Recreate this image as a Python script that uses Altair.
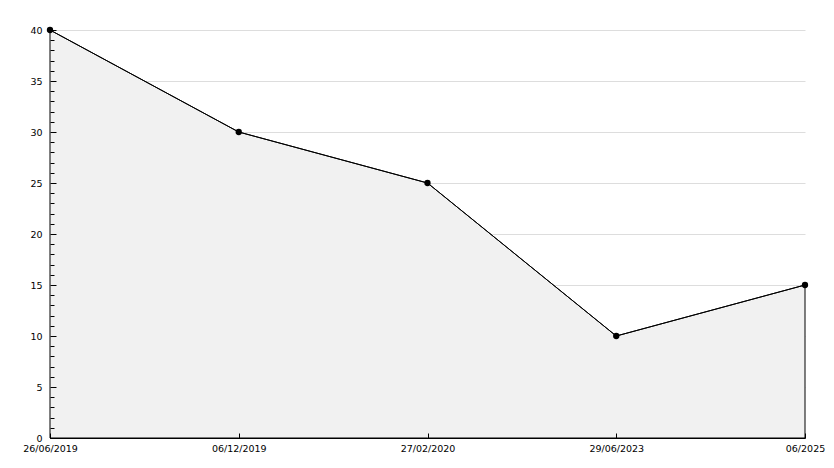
import altair as alt
import pandas as pd

dates = ["26/06/2019", "06/12/2019", "27/02/2020", "29/06/2023", "06/2025"]
values = [40, 30, 25, 10, 15]
y_major = list(range(0, 41, 5))
y_minor = list(range(0, 41))

df = pd.DataFrame({"date": dates, "value": values})

FONT = "DejaVu Sans"
W, H = 755, 408

xscale = alt.Scale(type="point", padding=0)
yscale = alt.Scale(domain=[0, 40], nice=False, zero=True)

x_main = alt.X(
    "date:N", sort=dates, scale=xscale, title=None,
    axis=alt.Axis(orient="bottom", labelAngle=0, ticks=False, domainColor="black",
                  domainWidth=1, labelFont=FONT, labelFontSize=9.5, labelColor="black",
                  labelPadding=5, grid=False, labelOverlap=False),
)
y_main = alt.Y(
    "value:Q", scale=yscale, title=None,
    axis=alt.Axis(orient="left", values=y_major, ticks=False, domainColor="black",
                  domainWidth=1, grid=True, gridColor="#dddddd", labelFont=FONT,
                  labelFontSize=9.5, labelColor="black", labelPadding=8),
)

base = alt.Chart(df)

area = base.mark_area(color="#f1f1f1", stroke="black", strokeWidth=1, opacity=1).encode(
    x=x_main, y=y_main
)
line = base.mark_line(color="black", strokeWidth=1).encode(
    x=alt.X("date:N", sort=dates, scale=xscale, axis=None),
    y=alt.Y("value:Q", scale=yscale, axis=None),
)
pts = base.mark_point(filled=True, color="black", size=40, opacity=1).encode(
    x=alt.X("date:N", sort=dates, scale=xscale, axis=None),
    y=alt.Y("value:Q", scale=yscale, axis=None),
)

ticks = base.mark_point(opacity=0).encode(
    x=alt.X("date:N", sort=dates, scale=xscale, title=None,
            axis=alt.Axis(orient="top", offset=-H, labels=False, domain=False, grid=False,
                          tickSize=5, tickColor="black", zindex=1)),
    y=alt.Y("value:Q", scale=yscale, title=None,
            axis=alt.Axis(orient="right", offset=-W, values=y_minor, labels=False,
                          domain=False, grid=False, tickColor="black",
                          tickSize={"condition": {"test": "datum.value % 5 === 0", "value": 6}, "value": 4},
                          zindex=1)),
)

chart = (
    alt.layer(area, line, pts, ticks)
    .resolve_axis(x="independent", y="independent")
    .properties(
        width=W, height=H,
        autosize=alt.AutoSizeParams(type="none"),
        padding={"left": 42, "top": 22, "right": 21, "bottom": 22},
        background="white",
    )
    .configure_view(stroke=None)
)

chart.save("out.html", embed_options={"renderer": "svg", "actions": False})
